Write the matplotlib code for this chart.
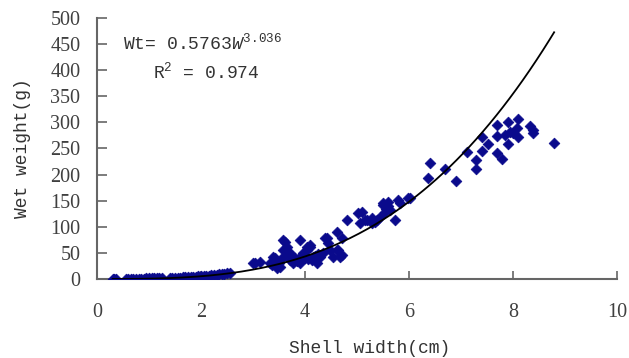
import numpy as np
import matplotlib.pyplot as plt

# shell width (cm) and wet weight (g)
width = [0.30, 0.33, 0.36, 0.55, 0.60, 0.65, 0.70, 0.75, 0.80, 0.85, 0.90, 0.95,
         1.00, 1.05, 1.10, 1.15, 1.20, 1.25, 1.40, 1.45, 1.50, 1.55, 1.60, 1.65,
         1.70, 1.75, 1.80, 1.85, 1.90, 1.95, 2.00, 2.05, 2.10, 2.15, 2.20, 2.25,
         2.30, 2.35, 2.40, 2.45, 2.50, 2.55,
         3.00, 3.04, 3.13, 3.33, 3.37, 3.38, 3.42, 3.46, 3.50, 3.52, 3.58, 3.58,
         3.62, 3.65, 3.67, 3.58, 3.71, 3.71, 3.77, 3.80, 3.85, 3.90, 3.90, 3.90,
         3.96, 4.00, 4.04, 4.04, 4.05, 4.10, 4.10, 4.13, 4.15, 4.20, 4.23, 4.25,
         4.29, 4.35, 4.38, 4.42, 4.44, 4.48, 4.54, 4.62, 4.62, 4.63, 4.67, 4.71,
         4.71,
         4.81, 5.02, 5.06, 5.10, 5.15, 5.19, 5.29, 5.29, 5.35, 5.38, 5.44, 5.50,
         5.50, 5.54, 5.55, 5.60, 5.60, 5.63, 5.73, 5.79, 5.83, 5.98, 6.02,
         6.37, 6.40, 6.69, 6.90, 7.12, 7.29, 7.29, 7.40, 7.40, 7.52, 7.69, 7.69,
         7.69, 7.79, 7.85, 7.90, 7.90, 7.94, 8.00, 8.08, 8.10, 8.10, 8.33, 8.38,
         8.38, 8.79]
weight = [0.5, 0.5, 0.5, 0.5, 0.5, 0.5, 0.5, 0.5, 0.5, 0.5, 0.5, 1.0,
          1.0, 1.0, 1.0, 1.0, 1.0, 1.5, 2.0, 2.0, 2.0, 2.5, 2.5, 3.0,
          3.0, 3.5, 4.0, 4.0, 4.5, 5.0, 5.0, 5.5, 6.0, 6.5, 7.0, 7.5,
          8.0, 9.0, 10.0, 10.0, 11.0, 12.0,
          31, 31, 33, 31, 27, 42, 40, 21, 30, 23, 75, 56,
          71, 61, 52, 42, 36, 50, 31, 40, 35, 75, 42, 31,
          50, 40, 61, 56, 38, 65, 61, 36, 42, 45, 31, 48,
          42, 50, 79, 79, 69, 56, 42, 90, 56, 56, 42, 79,
          46,
          113, 126, 107, 128, 113, 113, 117, 107, 109, 113, 119, 142,
          146, 128, 135, 148, 140, 132, 113, 151, 146, 155, 155,
          193, 222, 211, 188, 243, 228, 211, 272, 245, 259, 295, 274,
          241, 230, 276, 301, 259, 282, 280, 289, 307, 272, 293, 285,
          280, 261]

# power trendline as drawn on the picture
trend_a = 0.638
trend_b = 3.04
trend_range = [0.30, 8.79]

xticks = [0, 2, 4, 6, 8, 10]
yticks = list(range(0, 501, 50))

plt.rcParams['mathtext.fontset'] = 'custom'
plt.rcParams['mathtext.rm'] = 'Liberation Mono'
plt.rcParams['mathtext.it'] = 'Liberation Mono:italic'

fig = plt.figure(figsize=(6.29, 3.58), dpi=100)
ax = fig.add_axes([0.1542, 0.2207, 0.981 - 0.1542, 0.9497 - 0.2207])

ax.scatter(width, weight, marker='D', s=30, color='#0a0a8c', edgecolors='#0a0a8c',
           linewidths=0.5, zorder=3)

xx = np.linspace(trend_range[0], trend_range[1], 200)
ax.plot(xx, trend_a * xx ** trend_b, color='black', lw=1.3, zorder=4)

ax.set_xlim(0, 10)
ax.set_ylim(0, 500)
ax.set_xticks(xticks)
ax.set_yticks(yticks)
for s in ['top', 'right']:
    ax.spines[s].set_visible(False)
for s in ['left', 'bottom']:
    ax.spines[s].set_color('#666666')
    ax.spines[s].set_linewidth(1.5)
ax.tick_params(axis='both', direction='in', color='#666666', width=1.2,
               labelcolor='#404040')
ax.tick_params(axis='y', length=7, pad=12)
ax.tick_params(axis='x', length=6, pad=17)
for lab in ax.get_xticklabels() + ax.get_yticklabels():
    lab.set_fontfamily('Liberation Serif')
    lab.set_fontsize(14.5)

ax.set_xlabel('Shell width(cm)', fontfamily='Liberation Mono', fontsize=13,
              color='#333333')
ax.xaxis.set_label_coords(0.525, -0.235)
ax.set_ylabel('Wet weight(g)', fontfamily='Liberation Mono', fontsize=13,
              color='#333333')
ax.yaxis.set_label_coords(-0.127, 0.5)

fig.text(123 / 629, 1 - 43 / 358, r'Wt= 0.5763$\mathit{W}^{3.036}$',
         fontfamily='Liberation Mono', fontsize=13, color='#333333', va='center')
fig.text(153 / 629, 1 - 72 / 358, r'R$^{2}$ = 0.974',
         fontfamily='Liberation Mono', fontsize=13, color='#333333', va='center')

fig.savefig('out.png', dpi=100)
